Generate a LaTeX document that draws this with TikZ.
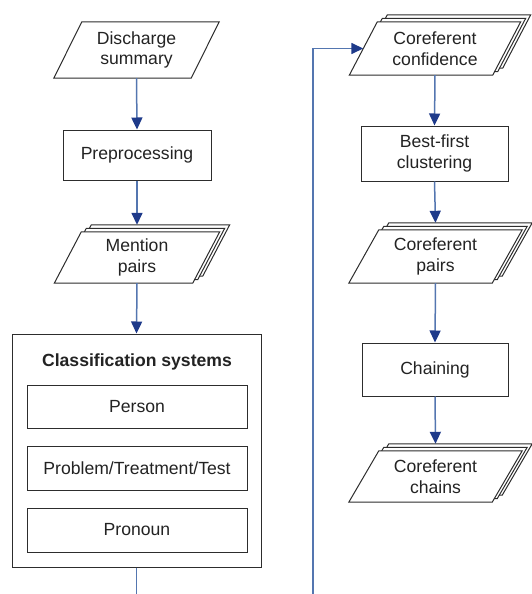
\documentclass[tikz,border=0pt]{standalone}
\usepackage{fontspec}
\setmainfont{Liberation Sans}
\usetikzlibrary{arrows.meta,backgrounds}
\definecolor{connc}{RGB}{84,118,176}
\definecolor{tipc}{RGB}{30,58,138}
\definecolor{edgec}{RGB}{45,45,45}
\definecolor{textc}{RGB}{35,35,35}
\tikzset{
  txt/.style={inner sep=0pt, align=center, font=\fontsize{17.6}{20.5}\selectfont, text=textc},
  boxnode/.style={txt, draw=edgec, line width=1pt, fill=white},
  shapeline/.style={draw=edgec, line width=1pt, fill=white, line join=miter},
  arrowc/.style={draw=connc, line width=1.5pt, -{Triangle[length=12pt,width=11pt,fill=tipc,color=tipc]}},
  plainc/.style={draw=connc, line width=1.5pt},
}
% #1 node name, #2 slant, #3 x offset, #4 y offset (upwards)
\newcommand{\paraout}[4]{%
  \draw[shapeline]
    ([xshift={#3pt-#2pt/2}, yshift=#4pt]#1.south west) --
    ([xshift={#3pt-#2pt/2}, yshift=#4pt]#1.south east) --
    ([xshift={#3pt+#2pt/2}, yshift=#4pt]#1.north east) --
    ([xshift={#3pt+#2pt/2}, yshift=#4pt]#1.north west) -- cycle;}
\newcommand{\parastack}[2]{%
  \paraout{#1}{#2}{10}{7}\paraout{#1}{#2}{5}{3.5}\paraout{#1}{#2}{0}{0}}
\begin{document}
\begin{tikzpicture}[x=1pt,y=-1pt]
\useasboundingbox (0,0) rectangle (531,594);

% left column
\node[txt, minimum width=137pt, minimum height=56pt] (ds) at (136.5,50) {Discharge\\summary};
\node[boxnode, minimum width=148pt, minimum height=50pt] (pre) at (137,155) {Preprocessing};
\node[txt, minimum width=138pt, minimum height=51pt] (mp) at (137,257.5) {Mention\\pairs};
\node[draw=edgec, line width=1pt, fill=white, minimum width=249pt, minimum height=233pt, inner sep=0pt] (cls) at (136.5,450.5) {};
\node[txt, font=\fontsize{17.6}{20.5}\selectfont\bfseries] (clst) at (137,362) {Classification systems};
\node[boxnode, minimum width=220pt, minimum height=43pt] (per) at (137,406.5) {Person};
\node[boxnode, minimum width=220pt, minimum height=44pt] (ptt) at (137,468) {Problem/Treatment/Test};
\node[boxnode, minimum width=220pt, minimum height=44pt] (pro) at (137,530) {Pronoun};
\coordinate (lend) at (136.5,594);

% right column
\node[txt, minimum width=143pt, minimum height=53pt] (conf) at (435,48.5) {Coreferent\\confidence};
\node[boxnode, minimum width=147pt, minimum height=55pt] (bf) at (434.5,153.5) {Best-first\\clustering};
\node[txt, minimum width=143pt, minimum height=53pt] (cp) at (435.5,256.5) {Coreferent\\pairs};
\node[boxnode, minimum width=146pt, minimum height=53pt] (ch) at (435,369.5) {Chaining};
\node[txt, minimum width=143pt, minimum height=51pt] (cc) at (435.5,476.5) {Coreferent\\chains};
\coordinate (rstart) at (313,594);

\begin{scope}[on background layer]
  \paraout{ds}{28}{0}{0}
  \parastack{mp}{27}
  \parastack{conf}{28}
  \parastack{cp}{30}
  \parastack{cc}{30}
\end{scope}

% connectors
\draw[arrowc] (ds.south) -- (pre.north);
\draw[arrowc] (pre.south) -- ([yshift=7pt]mp.north);
\draw[arrowc] (mp.south) -- (cls.north);
\draw[plainc] (cls.south) -- (lend);
\draw[arrowc] (rstart) |- (conf.west);
\draw[arrowc] (conf.south) -- (bf.north);
\draw[arrowc] (bf.south) -- ([yshift=7pt]cp.north);
\draw[arrowc] (cp.south) -- (ch.north);
\draw[arrowc] (ch.south) -- ([yshift=7pt]cc.north);
\end{tikzpicture}
\end{document}
